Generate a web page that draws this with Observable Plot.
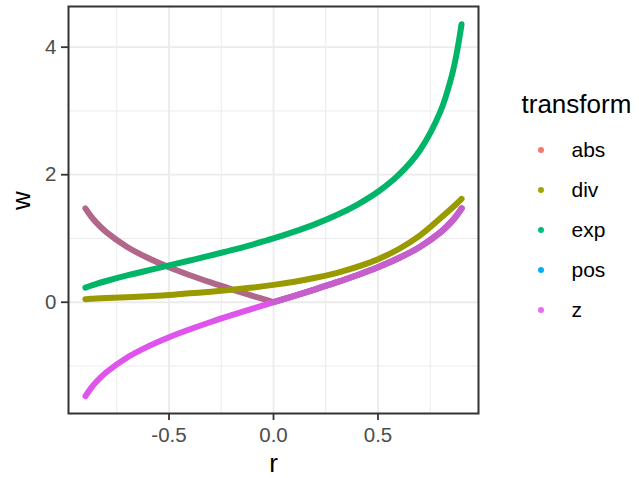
<!DOCTYPE html>
<html>
<head>
<meta charset="utf-8">
<script src="https://cdn.jsdelivr.net/npm/d3@7"></script>
<script src="https://cdn.jsdelivr.net/npm/@observablehq/plot@0.6"></script>
<style>
  html, body { margin: 0; padding: 0; background: white; }
  #wrap { position: relative; width: 639px; height: 478px; overflow: hidden; }
</style>
</head>
<body>
<div id="wrap"></div>
<script>
// ---- data ----
const rValues   = [-0.9,-0.875,-0.85,-0.8,-0.7,-0.6,-0.5,-0.4,-0.3,-0.2,-0.1,0,0.1,0.2,0.3,0.4,0.5,0.6,0.7,0.8,0.85,0.875,0.9];
const zValues   = [-1.472,-1.354,-1.256,-1.099,-0.867,-0.693,-0.549,-0.424,-0.310,-0.203,-0.100,0,0.100,0.203,0.310,0.424,0.549,0.693,0.867,1.099,1.256,1.354,1.472];
const expValues = [0.229,0.258,0.285,0.333,0.420,0.500,0.577,0.655,0.734,0.816,0.905,1.000,1.106,1.225,1.363,1.528,1.732,2.000,2.380,3.000,3.512,3.873,4.359];
const divValues = [0.048,0.053,0.058,0.065,0.079,0.094,0.112,0.140,0.165,0.195,0.230,0.272,0.322,0.383,0.458,0.553,0.675,0.835,1.045,1.320,1.465,1.540,1.620];
const absValues = [1.472,1.354,1.256,1.099,0.867,0.693,0.549,0.424,0.310,0.203,0.100,0,0.100,0.203,0.310,0.424,0.549,0.693,0.867,1.099,1.256,1.354,1.472];
const posValues = [null,null,null,null,null,null,null,null,null,null,null,0,0.100,0.203,0.310,0.424,0.549,0.693,0.867,1.099,1.256,1.354,1.472];

const seriesNames  = ["abs","div","exp","pos","z"];
const legendColors = ["#F8766D","#A3A500","#00BF7D","#00B0F6","#E76BF3"];
const lineColors   = ["#B0678A","#999900","#00B468","#C45FCB","#E054EE"];
const drawOrder    = ["abs","div","exp","z","pos"];

const xTicks = [-0.5, 0, 0.5];
const xTickLabels = ["-0.5","0.0","0.5"];
const xMinor = [-0.75,-0.25,0.25,0.75];
const yTicks = [0, 2, 4];
const yTickLabels = ["0","2","4"];
const yMinor = [-1, 1, 3];

// ---- long table ----
const valuesBySeries = {abs: absValues, div: divValues, exp: expValues, pos: posValues, z: zValues};
const table = [];
for (const s of drawOrder) {
  const vals = valuesBySeries[s];
  rValues.forEach((r, i) => {
    const w = vals[i];
    if (w == null) return;
    if (s === "abs") {
      if (r <= 0) table.push({r, w, series: s, grp: "abs-L"});
      if (r >= 0) table.push({r, w, series: s, grp: "abs-R"});
    } else {
      table.push({r, w, series: s, grp: s});
    }
  });
}

const xLab = new Map(xTicks.map((t, i) => [t, xTickLabels[i]]));
const yLab = new Map(yTicks.map((t, i) => [t, yTickLabels[i]]));
const font = "'Liberation Sans', Arial, sans-serif";

const plot = Plot.plot({
  width: 639,
  height: 478,
  marginLeft: 68,
  marginRight: 161,
  marginTop: 6,
  marginBottom: 65,
  style: {fontFamily: font, background: "white", overflow: "visible"},
  x: {domain: [-0.981, 0.981]},
  y: {domain: [-1.745, 4.638]},
  color: {domain: seriesNames, range: lineColors},
  marks: [
    Plot.gridX(xMinor, {stroke: "#EBEBEB", strokeOpacity: 1, strokeWidth: 1}),
    Plot.gridY(yMinor, {stroke: "#EBEBEB", strokeOpacity: 1, strokeWidth: 1}),
    Plot.gridX(xTicks, {stroke: "#EBEBEB", strokeOpacity: 1, strokeWidth: 1.8}),
    Plot.gridY(yTicks, {stroke: "#EBEBEB", strokeOpacity: 1, strokeWidth: 1.8}),
    Plot.line(table, {x: "r", y: "w", stroke: "series", z: "grp", curve: "catmull-rom",
      strokeWidth: 6, strokeLinecap: "round", strokeLinejoin: "round"}),
    Plot.frame({stroke: "#333333", strokeWidth: 2}),
    Plot.axisX(xTicks, {tickFormat: d => xLab.get(d), tickSize: 7, tickPadding: 7, fontSize: 20.5,
      stroke: "#333333", fill: "#4D4D4D", strokeWidth: 1.8, label: null}),
    Plot.axisY(yTicks, {tickFormat: d => yLab.get(d), tickSize: 7, tickPadding: 5, fontSize: 20.5,
      stroke: "#333333", fill: "#4D4D4D", strokeWidth: 1.8, label: null}),
    Plot.text(["r"], {text: d => d, frameAnchor: "bottom", dy: 58, fontSize: 26, fill: "black"}),
    Plot.text(["w"], {text: d => d, frameAnchor: "left", rotate: -90, dx: -47, fontSize: 26, fill: "black"})
  ]
});

const wrap = document.getElementById("wrap");
wrap.appendChild(plot);

// ---- legend ----
const legend = d3.create("svg")
  .attr("width", 639).attr("height", 478)
  .style("position", "absolute").style("left", "0px").style("top", "0px")
  .style("font-family", font);
legend.append("text").attr("x", 521.5).attr("y", 113).attr("font-size", 26).attr("fill", "black").text("transform");
seriesNames.forEach((s, i) => {
  const cy = 150 + 40 * i;
  legend.append("circle").attr("cx", 541).attr("cy", cy).attr("r", 3).attr("fill", legendColors[i]);
  legend.append("text").attr("x", 571.5).attr("y", cy).attr("dy", "0.35em").attr("font-size", 21).attr("fill", "black").text(s);
});
wrap.appendChild(legend.node());
</script>
</body>
</html>
